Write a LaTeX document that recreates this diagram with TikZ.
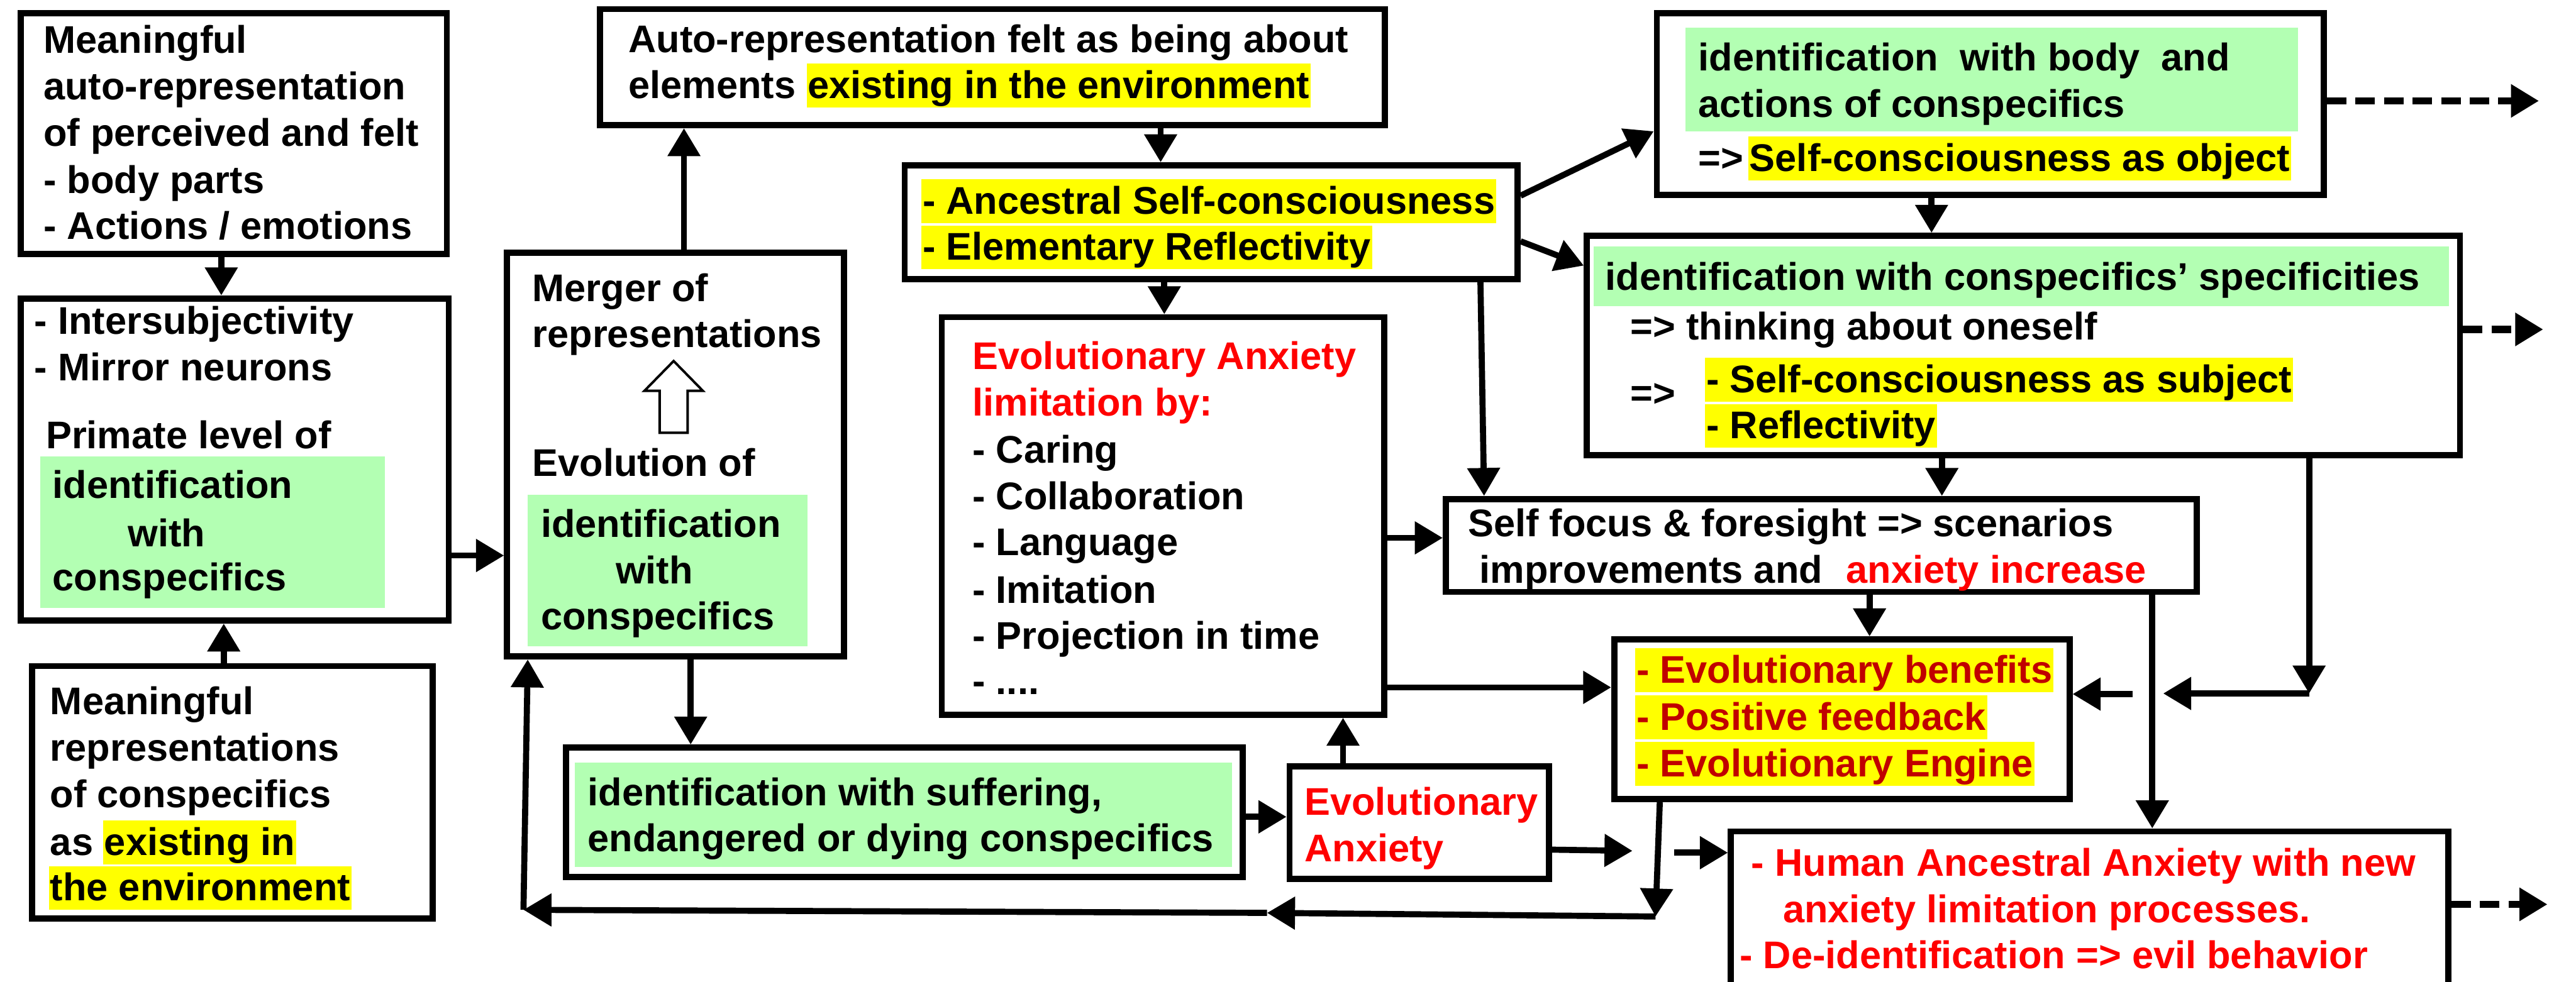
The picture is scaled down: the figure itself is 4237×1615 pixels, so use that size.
\documentclass[tikz,border=0pt]{standalone}
\usepackage{fontspec}
\setmainfont{Liberation Sans}
\usetikzlibrary{arrows.meta,fit}
\definecolor{hlyellow}{RGB}{255,255,0}
\definecolor{hlgreen}{RGB}{179,255,179}
\definecolor{txtred}{RGB}{255,0,0}
\definecolor{darkred}{RGB}{192,0,0}

\begin{document}
\begin{tikzpicture}[x=0.01cm, y=-0.01cm,
  box/.style={draw=black, line width=0.1cm, fill=white, inner sep=0pt, rectangle},
  lbl/.style={anchor=base west, inner sep=0pt, font=\fontsize{18.04}{21.6}\selectfont\bfseries},
  hly/.style={lbl, fill=hlyellow, inner xsep=0.02cm, inner ysep=0pt, text height=0.57cm, text depth=0.15cm},
  arr/.style={line width=0.1cm, -{Triangle[length=0.46cm, width=0.52cm]}},
  darr/.style={arr, line width=0.12cm, dash pattern=on 0.32cm off 0.15cm},
]
\useasboundingbox (0,0) rectangle (4237,1615);
\clip (0,0) rectangle (4237,1615);

% ---------- boxes ----------
\node[box, fit={(34,22) (735,418)}] (A) {};
\node[box, fit={(34,491) (738,1021)}] (B) {};
\node[box, fit={(53,1096) (712,1511)}] (C) {};
\node[box, fit={(834,416) (1388,1080)}] (D) {};
\node[box, fit={(987,15) (2278,206)}] (E) {};
\node[box, fit={(1488,272) (2496,459)}] (F) {};
\node[box, fit={(1549,522) (2277,1176)}] (G) {};
\node[box, fit={(2378,821) (3613,974)}] (H) {};
\node[box, fit={(2725,22) (3822,321)}] (I) {};
\node[box, fit={(2610,388) (4046,749)}] (J) {};
\node[box, fit={(2847,1368) (4027,1700)}] (K) {};
\node[box, fit={(2655,1052) (3404,1315)}] (L) {};
\node[box, fit={(931,1230) (2044,1443)}] (M) {};
\node[box, fit={(2121,1261) (2548,1446)}] (N) {};

% ---------- green backgrounds ----------
\fill[hlgreen] (66,751) rectangle (633,1000);
\fill[hlgreen] (868,814) rectangle (1328,1063);
\fill[hlgreen] (2772,45) rectangle (3780,216);
\fill[hlgreen] (2621,406) rectangle (4028,504);
\fill[hlgreen] (945,1255) rectangle (2026,1426);

% ---------- texts ----------
% perceived auto-representation
\node[lbl] (tA1) at (71,87) {Meaningful};
\node[lbl] (tA2) at (71,164) {auto-representation};
\node[lbl] (tA3) at (71,241) {of perceived and felt};
\node[lbl] (tA4) at (71,318) {- body parts};
\node[lbl] (tA5) at (71,394) {- Actions / emotions};
% primate level
\node[lbl] (tB1) at (56,550) {- Intersubjectivity};
\node[lbl] (tB2) at (56,626) {- Mirror neurons};
\node[lbl] (tB3) at (75,738) {Primate level of};
\node[lbl] (tB4) at (86,820) {identification};
\node[lbl] (tB5) at (210,899) {with};
\node[lbl] (tB6) at (86,972) {conspecifics};
% representations of conspecifics
\node[lbl] (tC1) at (82,1176) {Meaningful};
\node[lbl] (tC2) at (82,1252) {representations};
\node[lbl] (tC3) at (82,1329) {of conspecifics};
\node[lbl] (tC4) at (82,1407) {as};
\node[hly] (tC5) at (169,1407) {existing in};
\node[hly] (tC6) at (80,1482) {the environment};
% merger
\node[lbl] (tD1) at (875,496) {Merger of};
\node[lbl] (tD2) at (875,572) {representations};
\node[lbl] (tD3) at (875,784) {Evolution of};
\node[lbl] (tD4) at (889,884) {identification};
\node[lbl] (tD5) at (1012,960) {with};
\node[lbl] (tD6) at (889,1036) {conspecifics};
\draw[line width=0.04cm, fill=white] (1108,594) -- (1156,643) -- (1131,643) -- (1131,712)
  -- (1085,712) -- (1085,643) -- (1060,643) -- cycle;
% environment
\node[lbl] (tE1) at (1033,86) {Auto-representation felt as being about};
\node[lbl] (tE2) at (1033,162) {elements};
\node[hly] (tE3) at (1326,162) {existing in the environment};
% ancestral self-consciousness
\node[hly] (tF1) at (1515,352) {- Ancestral Self-consciousness};
\node[hly] (tF2) at (1515,428) {- Elementary Reflectivity};
% anxiety limitation
\node[lbl, text=txtred] (tG1) at (1599,608) {Evolutionary Anxiety};
\node[lbl, text=txtred] (tG2) at (1599,684) {limitation by:};
\node[lbl] (tG3) at (1599,762) {- Caring};
\node[lbl] (tG4) at (1599,838) {- Collaboration};
\node[lbl] (tG5) at (1599,914) {- Language};
\node[lbl] (tG6) at (1599,992) {- Imitation};
\node[lbl] (tG7) at (1599,1068) {- Projection in time};
\node[lbl] (tG8) at (1599,1143) {- ....};
% self focus
\node[lbl] (tH1) at (2414,883) {Self focus \& foresight => scenarios};
\node[lbl] (tH2) at (2433,959) {improvements and};
\node[lbl, text=txtred] (tH3) at (3036,959) {anxiety increase};
% body and actions
\node[lbl] (tI1) at (2793,116) {identification\ \ with body\ \ and};
\node[lbl] (tI2) at (2793,193) {actions of conspecifics};
\node[lbl] (tI3) at (2793,282) {=>};
\node[hly] (tI4) at (2875,282) {Self-consciousness as object};
% specificities
\node[lbl] (tJ1) at (2640,477) {identification with conspecifics’ specificities};
\node[lbl] (tJ2) at (2681,559) {=> thinking about oneself};
\node[lbl] (tJ3) at (2681,669) {=>};
\node[hly] (tJ4) at (2804,646) {- Self-consciousness as subject};
\node[hly] (tJ5) at (2804,722) {- Reflectivity};
% human ancestral anxiety
\node[lbl, text=txtred] (tK1) at (2880,1441) {- Human Ancestral Anxiety with new};
\node[lbl, text=txtred] (tK2) at (2932,1518) {anxiety limitation processes.};
\node[lbl, text=txtred] (tK3) at (2861,1594) {- De-identification => evil behavior};
% benefits
\node[hly, text=darkred] (tL1) at (2689,1124) {- Evolutionary benefits};
\node[hly, text=darkred] (tL2) at (2689,1201) {- Positive feedback};
\node[hly, text=darkred] (tL3) at (2689,1278) {- Evolutionary Engine};
% suffering
\node[lbl] (tM1) at (966,1326) {identification with suffering,};
\node[lbl] (tM2) at (966,1401) {endangered or dying conspecifics};
% evolutionary anxiety
\node[lbl, text=txtred] (tN1) at (2145,1341) {Evolutionary};
\node[lbl, text=txtred] (tN2) at (2145,1418) {Anxiety};

% ---------- free ends and corners ----------
\coordinate (jc) at (3798,1141);
\coordinate (jm) at (3558,1141);
\coordinate (js) at (3508,1142);
\coordinate (lc) at (2723,1508);
\coordinate (lm) at (2084,1502);
\coordinate (dc) at (861,1497);
\coordinate (nk) at (2685,1400);
\coordinate (kw) at (2754,1403);
\coordinate (iout) at (4176,166);
\coordinate (jout) at (4183,542);
\coordinate (kout) at (4190,1488);

% ---------- connectors ----------
\draw[arr] (364,0 |- A.south) -- (364,0 |- B.north);
\draw[arr] (368,0 |- C.north) -- (368,0 |- B.south);
\draw[arr] (B.east |- 0,914) -- (D.west |- 0,914);
\draw[arr] (1125,0 |- D.north) -- (1125,0 |- E.south);
\draw[arr] (1909,0 |- E.south) -- (1909,0 |- F.north);
\draw[arr] (1915,0 |- F.south) -- (1915,0 |- G.north);
\draw[arr] (F.east |- 0,322) -- (I.west |- 0,216);
\draw[arr] (F.east |- 0,397) -- (J.west |- 0,437);
\draw[arr] (3177,0 |- I.south) -- (3177,0 |- J.north);
\draw[arr] (2435,0 |- F.south) -- (2441,0 |- H.north);
\draw[arr] (G.east |- 0,885) -- (H.west |- 0,885);
\draw[arr] (G.east |- 0,1131) -- (L.west |- 0,1131);
\draw[arr] (3194,0 |- J.south) -- (3194,0 |- H.north);
\draw[arr] (3075,0 |- H.south) -- (3075,0 |- L.north);
\draw[arr] (3540,0 |- H.south) -- (3540,0 |- K.north);
\draw[arr] (3798,0 |- J.south) -- (jc);
\draw[arr] (jc) -- (jm);
\draw[arr] (js) -- (L.east |- js);
\draw[arr] (2730,0 |- L.south) -- (lc);
\draw[arr] (lc) -- (lm);
\draw[arr] (lm) -- (dc);
\draw[arr] (dc) -- (868,0 |- D.south);
\draw[arr] (1136,0 |- D.south) -- (1136,0 |- M.north);
\draw[arr] (M.east |- 0,1344) -- (N.west |- 0,1344);
\draw[arr] (2209,0 |- N.north) -- (2209,0 |- G.south);
\draw[arr] (N.east |- 0,1398) -- (nk);
\draw[arr] (kw) -- (K.west |- kw);
\draw[darr] (I.east |- iout) -- (iout);
\draw[darr] (J.east |- jout) -- (jout);
\draw[darr] (K.east |- kout) -- (kout);
\end{tikzpicture}
\end{document}
